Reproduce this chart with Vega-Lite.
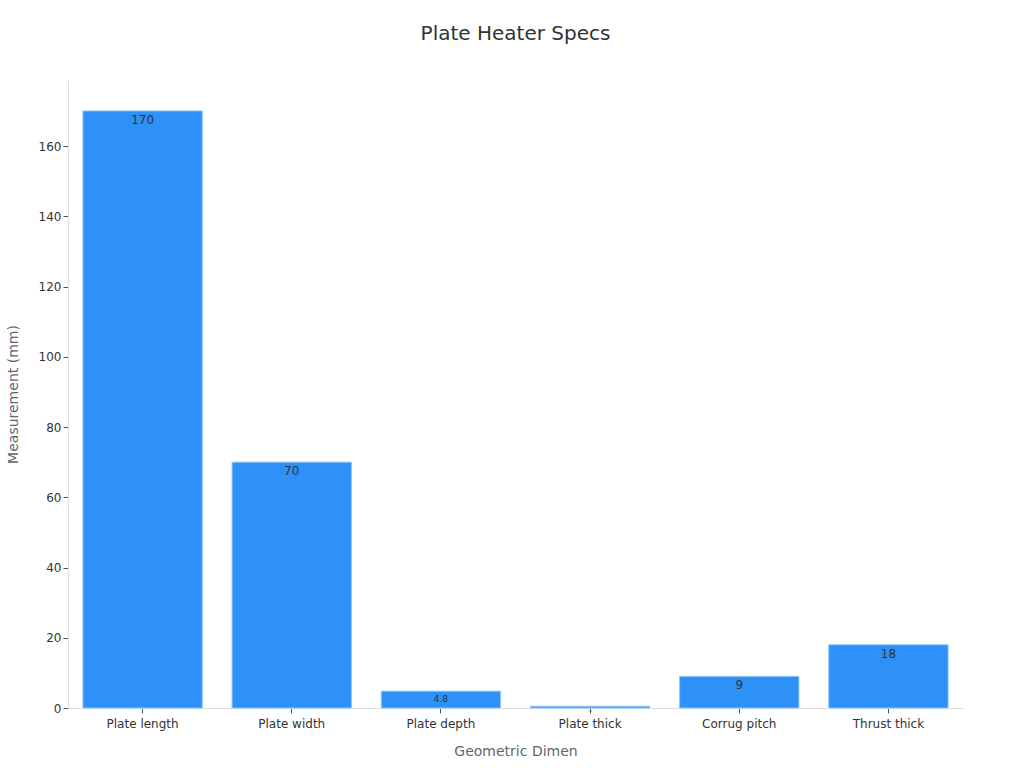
{
  "$schema": "https://vega.github.io/schema/vega-lite/v6.json",
  "width": 895,
  "height": 628,
  "padding": {"left": 68, "top": 80, "right": 61, "bottom": 60},
  "autosize": {"type": "none"},
  "background": "white",
  "title": {
    "text": "Plate Heater Specs",
    "fontSize": 20,
    "font": "DejaVu Sans",
    "fontWeight": "normal",
    "color": "#333333",
    "offset": 36
  },
  "data": {
    "values": [
      {"dimension": "Plate length", "value": 170},
      {"dimension": "Plate width", "value": 70},
      {"dimension": "Plate depth", "value": 4.8},
      {"dimension": "Plate thick", "value": 0.5},
      {"dimension": "Corrug pitch", "value": 9},
      {"dimension": "Thrust thick", "value": 18}
    ]
  },
  "config": {
    "view": {"stroke": null},
    "font": "DejaVu Sans",
    "axis": {
      "labelFont": "DejaVu Sans",
      "titleFont": "DejaVu Sans",
      "labelFontSize": 12,
      "titleFontSize": 14,
      "titleFontWeight": "normal",
      "titleColor": "#666666",
      "labelColor": "#333333",
      "domainColor": "#dddddd",
      "tickColor": "#555555",
      "grid": false
    }
  },
  "layer": [
    {
      "mark": {"type": "bar", "color": "#2e91f8", "stroke": "#8cc4fb", "strokeWidth": 1},
      "encoding": {
        "x": {
          "field": "dimension",
          "type": "nominal",
          "sort": null,
          "scale": {"paddingInner": 0.2, "paddingOuter": 0.1},
          "axis": {"labelAngle": 0, "title": "Geometric Dimen", "titlePadding": 15, "labelPadding": 5}
        },
        "y": {
          "field": "value",
          "type": "quantitative",
          "scale": {"domain": [0, 178.8], "nice": false},
          "axis": {"title": "Measurement (mm)", "values": [0, 20, 40, 60, 80, 100, 120, 140, 160], "titlePadding": 18}
        }
      }
    },
    {
      "mark": {"type": "text", "baseline": "top", "dy": 4, "color": "#333333"},
      "encoding": {
        "x": {"field": "dimension", "type": "nominal", "sort": null},
        "y": {"field": "value", "type": "quantitative"},
        "text": {"field": "value", "type": "quantitative"},
        "size": {
          "field": "value",
          "type": "quantitative",
          "legend": null,
          "scale": {"domain": [0.5, 4.8, 9], "range": [2, 9, 12], "clamp": true}
        }
      }
    }
  ]
}
